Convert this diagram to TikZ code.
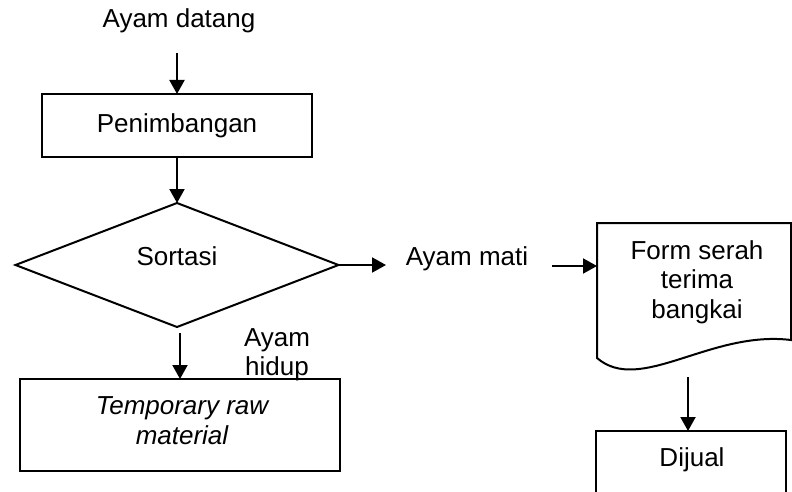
\documentclass[tikz,border=0pt]{standalone}
\usepackage{fontspec}
\setmainfont{Liberation Sans}
\usetikzlibrary{shapes.geometric,arrows.meta,calc}
\begin{document}
\begin{tikzpicture}[x=1pt,y=-1pt,
  txt/.style={font=\fontsize{26}{29.5}\selectfont},
  every node/.style={txt, inner sep=0pt, outer sep=0pt},
  box/.style={draw, line width=2pt, rectangle, align=center},
  flow/.style={line width=2pt, -{Triangle[length=14pt,width=15pt]}},
  lbl/.style={anchor=base},
  multi/.style={align=center}]
\useasboundingbox (0,0) rectangle (792,492);
\clip (0,0) rectangle (792,492);

% start of the flow
\node[lbl] (start) at (179,28) {Ayam datang};

% weighing
\node[box, minimum width=270pt, minimum height=63pt] (weigh) at (177,125.5) {Penimbangan};

% sorting decision
\node[draw, diamond, line width=2pt, minimum width=323pt, minimum height=124pt] (sort) at (177,265) {};
\node[lbl] (sortlbl) at (177,265) {Sortasi};

% live birds go to temporary storage
\node[box, minimum width=320pt, minimum height=92pt] (temp) at (180,425) {};
\node[multi, font={\fontsize{26}{29.5}\selectfont\itshape}] (templbl) at (182,420.5) {Temporary raw\\material};
\node[multi] (alive) at (277,355) {Ayam\\hidup};

% dead birds
\node[lbl] (dead) at (467,265) {Ayam mati};
\coordinate (deadin) at (386,265);
\coordinate (deadout) at (552,266);

% handover form (document shape)
\draw[line width=2pt] (597,223) -- (791,223) -- (791,340)
  .. controls (710,330) and (640,395) .. (597,358) -- cycle;
\coordinate (docin) at (597,266);
\node[multi] (doc) at (697,282) {Form serah\\terima\\bangkai};
\coordinate (docout) at (688,377);

% sold
\node[box, anchor=north, minimum width=190pt, minimum height=80pt] (sell) at (691,431) {};
\node[lbl] (selllbl) at (692,466) {Dijual};

% connectors
\draw[flow] ($(weigh.north)+(0,-41)$) -- (weigh.north);
\draw[flow] (weigh.south) -- (sort.north);
\draw[flow] (sort.east) -- (deadin);
\draw[flow] (deadout) -- (docin);
\draw[flow] ($(temp.north)+(0,-46)$) -- (temp.north);
\draw[flow] (docout) -- (docout |- sell.north);
\end{tikzpicture}
\end{document}
